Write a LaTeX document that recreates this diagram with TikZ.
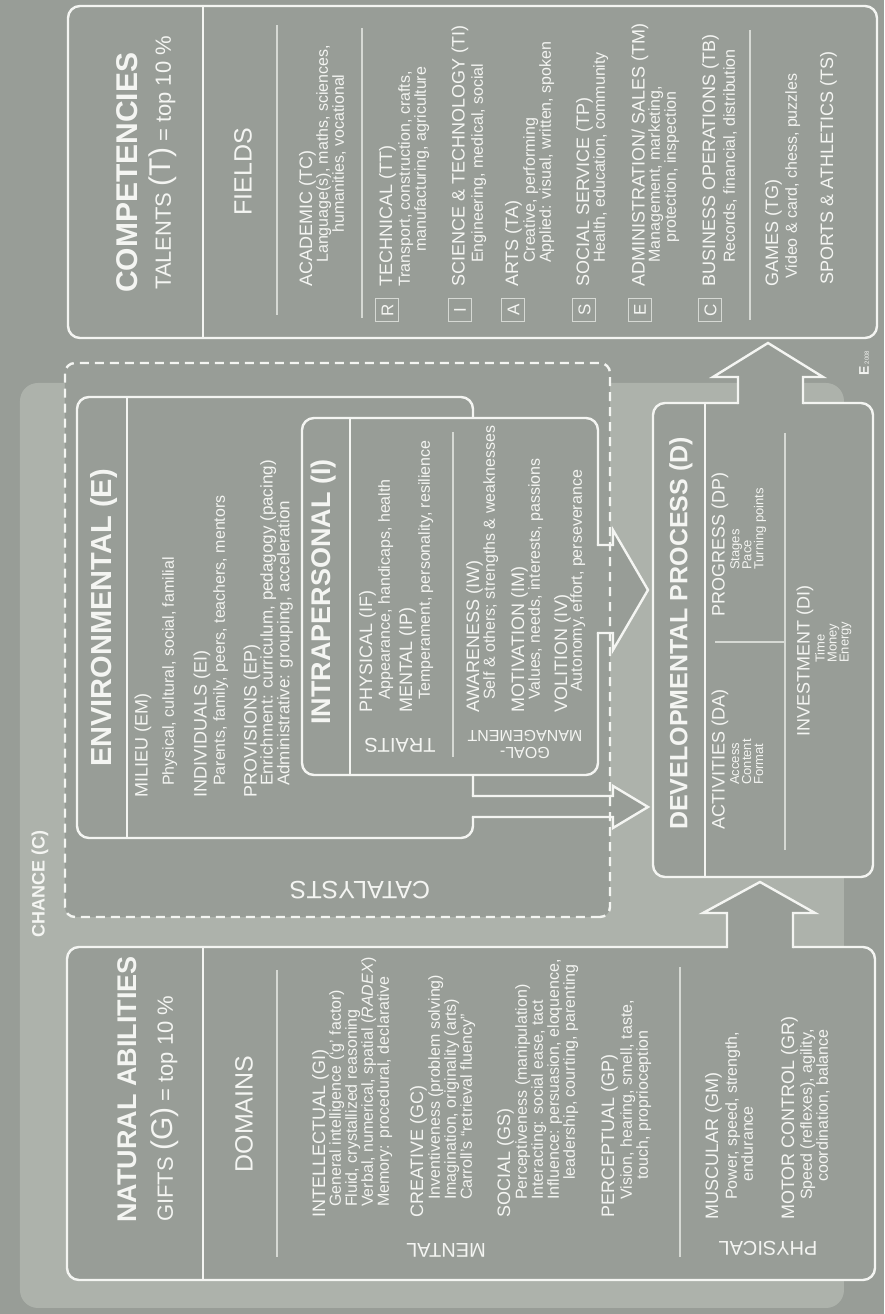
\documentclass[tikz,border=0pt]{standalone}
\usepackage{fontspec}
\setmainfont{Liberation Sans}
\definecolor{bgdark}{RGB}{152,157,151}
\definecolor{chancelt}{RGB}{173,178,171}
\definecolor{inkwhite}{RGB}{244,245,242}
\definecolor{rulegray}{RGB}{214,217,212}
\tikzset{
  box/.style={draw=inkwhite,line width=2.4pt,fill=bgdark,rounded corners=12pt},
  arrowline/.style={draw=inkwhite,line width=2.4pt,line join=miter},
  divider/.style={draw=inkwhite,line width=1.3pt},
  thinrule/.style={draw=rulegray,line width=1.1pt},
  txt/.style={text=inkwhite,inner sep=0pt},
  big/.style={txt,font=\bfseries\fontsize{#1}{#1}\selectfont},
  ttl/.style={txt,anchor=west,font=\fontsize{18}{18}\selectfont},
  sub/.style={txt,anchor=north west,align=left,font=\fontsize{16}{16}\selectfont},
  subsmall/.style={txt,anchor=north west,align=left,font=\fontsize{13}{12}\selectfont},
  side/.style={txt,rotate=90,font=\fontsize{20}{20}\selectfont},
  lettbox/.style={draw=rulegray,line width=1pt,minimum size=23pt,inner sep=0pt,text=inkwhite,font=\fontsize{17}{17}\selectfont}
}
\begin{document}
\begin{tikzpicture}[x=1pt,y=1pt]
\begin{scope}[rotate=90,transform shape]
\useasboundingbox (0,0) rectangle (1314,884);
\fill[bgdark] (0,0) rectangle (1314,884);
\fill[chancelt,rounded corners=18pt] (6,40) rectangle (931,864);
\fill[bgdark,rounded corners=10pt] (397,274) rectangle (951,819);

% boxes
\draw[box] (976,7) rectangle (1308,816);
\draw[box] (34,9) rectangle (367,817);
\draw[box] (437,11) rectangle (911,231);
\draw[box] (476,411) rectangle (917,807);
\draw[box] (539,286) rectangle (896,582);

% arrows
\fill[bgdark] (363,91) -- (401,91) -- (401,69) -- (432,124) -- (401,181) -- (401,157) -- (363,157) -- cycle;
\draw[arrowline] (365.8,91) -- (401,91) -- (401,69) -- (432,124) -- (401,181) -- (401,157) -- (365.8,157);
\fill[bgdark] (909,81) -- (937,81) -- (937,61) -- (971,116) -- (937,171) -- (937,146) -- (909,146) -- cycle;
\draw[arrowline] (909.8,81) -- (937,81) -- (937,61) -- (971,116) -- (937,171) -- (937,146) -- (909.8,146);
\fill[bgdark] (497,414) -- (497,271) -- (486,271) -- (507,236) -- (528,271) -- (518,271) -- (518,414) -- cycle;
\draw[arrowline] (497,412.2) -- (497,271) -- (486,271) -- (507,236) -- (528,271) -- (518,271) -- (518,412.2);
\fill[bgdark] (681,289) -- (681,271) -- (664,271) -- (724,236) -- (784,271) -- (769,271) -- (769,289) -- cycle;
\draw[arrowline] (681,287.2) -- (681,271) -- (664,271) -- (724,236) -- (784,271) -- (769,271) -- (769,287.2);

\draw[inkwhite,line width=2.4pt,dash pattern=on 9pt off 6pt,rounded corners=10pt] (397,274) rectangle (951,819);

% rules
\draw[divider] (976,681) -- (1308,681);
\draw[divider] (34,681) -- (367,681);
\draw[divider] (437,179) -- (911,179);
\draw[divider] (476,757) -- (917,757);
\draw[divider] (539,534) -- (896,534);
\draw[thinrule] (999,607) -- (1289,607);
\draw[thinrule] (996,522) -- (1286,522);
\draw[thinrule] (994,134) -- (1284,134);
\draw[thinrule] (57,607) -- (344,607);
\draw[thinrule] (57,204) -- (347,204);
\draw[thinrule] (557,431) -- (882,431);
\draw[thinrule] (672,99) -- (672,169);
\draw[thinrule] (464,99) -- (881,99);

% headings
\node[big=18] (chance) at (430,844) {CHANCE (C)};
\node[txt,rotate=90,font=\fontsize{25}{25}\selectfont] (catalysts) at (424,524) {CATALYSTS};
\node[big=27,anchor=west] (gifthead) at (91,757) {NATURAL ABILITIES};
\node[txt,anchor=west,font=\fontsize{22}{22}\selectfont] (giftsub) at (92,719) {GIFTS {\fontsize{30}{30}\selectfont(G)} = top 10 \%};
\node[txt,font=\fontsize{25}{25}\selectfont] (domains) at (200,640) {DOMAINS};
\node[big=30,anchor=west] (talhead) at (1021,757) {COMPETENCIES};
\node[txt,anchor=west,font=\fontsize{22}{22}\selectfont] (talsub) at (1024,721) {TALENTS {\fontsize{30}{30}\selectfont(T)} = top 10 \%};
\node[txt,font=\fontsize{25}{25}\selectfont] (fields) at (1142,641) {FIELDS};
\node[big=29] (envhead) at (696,780) {ENVIRONMENTAL (E)};
\node[big=27] (intrahead) at (722,560) {INTRAPERSONAL (I)};
\node[big=25,anchor=west] (devhead) at (484,203) {DEVELOPMENTAL PROCESS (D)};

\node[side] (mental) at (64,438) {MENTAL};
\node[side] (physical) at (66,116) {PHYSICAL};
\node[side] (traits) at (569,484) {TRAITS};
\node[side,align=center,font=\fontsize{16}{17}\selectfont] (goalmgmt) at (569,359) {GOAL-\\MANAGEMENT};

% gifts
\node[ttl] (gi) at (96,563.5) {INTELLECTUAL (GI)};
\node[sub] (gisub) at (107,555) {General intelligence (`g' factor)\\Fluid, crystallized reasoning\\Verbal, numerical, spatial (\textit{RADEX})\\Memory: procedural, declarative};
\node[ttl] (gc) at (96,465.5) {CREATIVE (GC)};
\node[sub] (gcsub) at (114,456) {Inventiveness (problem solving)\\Imagination, originality (arts)\\Carroll's ``retrieval fluency''};
\node[ttl] (gs) at (96,378.5) {SOCIAL (GS)};
\node[sub] (gssub) at (114,369) {Perceptiveness (manipulation)\\Interacting: social ease, tact\\Influence: persuasion, eloquence,\\\hspace*{20pt}leadership, courting, parenting};
\node[ttl] (gp) at (96,274.5) {PERCEPTUAL (GP)};
\node[sub] (gpsub) at (114,264) {Vision, hearing, smell, taste,\\\hspace*{20pt}touch, proprioception};
\node[ttl] (gm) at (94,170.5) {MUSCULAR (GM)};
\node[sub] (gmsub) at (114,159) {Power, speed, strength,\\\hspace*{18pt}endurance};
\node[ttl] (gr) at (94,94.5) {MOTOR CONTROL (GR)};
\node[sub] (grsub) at (114,84) {Speed (reflexes), agility,\\\hspace*{18pt}coordination, balance};

% environment
\node[ttl] (em) at (516,741) {MILIEU (EM)};
\node[sub] (emsub) at (528,722) {Physical, cultural, social, familial};
\node[ttl] (ei) at (516,682) {INDIVIDUALS (EI)};
\node[sub] (eisub) at (528,671) {Parents, family, peers, teachers, mentors};
\node[ttl] (ep) at (516,632) {PROVISIONS (EP)};
\node[sub,font=\fontsize{17}{13}\selectfont] (epsub) at (528,624) {Enrichment: curriculum, pedagogy (pacing)\\Administrative: grouping, acceleration};

% intrapersonal
\node[ttl] (if) at (601,516.5) {PHYSICAL (IF)};
\node[sub] (ifsub) at (614,506) {Appearance, handicaps, health};
\node[ttl] (ip) at (601,476.5) {MENTAL (IP)};
\node[sub] (ipsub) at (614,466) {Temperament, personality, resilience};
\node[ttl] (iw) at (601,409.5) {AWARENESS (IW)};
\node[sub] (iwsub) at (614,401) {Self \& others; strengths \& weaknesses};
\node[ttl] (im) at (601,364.5) {MOTIVATION (IM)};
\node[sub] (imsub) at (614,356) {Values, needs, interests, passions};
\node[ttl] (iv) at (601,321.5) {VOLITION (IV)};
\node[sub] (ivsub) at (622,314) {Autonomy, effort, perseverance};

% process
\node[ttl] (da) at (484,164) {ACTIVITIES (DA)};
\node[subsmall] (dasub) at (529,154) {Access\\Content\\Format};
\node[ttl] (dp) at (697,164) {PROGRESS (DP)};
\node[subsmall] (dpsub) at (744,154) {Stages\\Pace\\Turning points};
\node[ttl] (di) at (577,79) {INVESTMENT (DI)};
\node[subsmall] (disub) at (651,69) {Time\\Money\\Energy};

% talents
\foreach \lt/\yy in {R/496.5,I/424,A/370.5,S/299.5,E/244,C/173.5}
  \node[lettbox] (box\lt) at (1004,\yy) {\lt};
\node[ttl] (tc) at (1027,576.5) {ACADEMIC (TC)};
\node[sub] (tcsub) at (1051,568) {Language(s), maths, sciences,\\\hspace*{30pt}humanities, vocational};
\node[ttl] (tt) at (1027,496.5) {TECHNICAL (TT)};
\node[sub] (ttsub) at (1027,486) {Transport, construction, crafts,\\\hspace*{35pt}manufacturing, agriculture};
\node[ttl] (ti) at (1027,424) {SCIENCE \& TECHNOLOGY (TI)};
\node[sub] (tisub) at (1051,413) {Engineering, medical, social};
\node[ttl] (ta) at (1027,370.5) {ARTS (TA)};
\node[sub] (tasub) at (1051,361) {Creative, performing\\Applied: visual, written, spoken};
\node[ttl] (tp) at (1027,299.5) {SOCIAL SERVICE (TP)};
\node[sub] (tpsub) at (1051,291) {Health, education, community};
\node[ttl] (tm) at (1027,244) {ADMINISTRATION/ SALES (TM)};
\node[sub] (tmsub) at (1051,236) {Management, marketing,\\\hspace*{20pt}protection, inspection};
\node[ttl] (tb) at (1027,173.5) {BUSINESS OPERATIONS (TB)};
\node[sub] (tbsub) at (1051,161) {Records, financial, distribution};
\node[ttl] (tg) at (1027,110.5) {GAMES (TG)};
\node[sub] (tgsub) at (1035,99) {Video \& card, chess, puzzles};
\node[ttl] (ts) at (1029,55.5) {SPORTS \& ATHLETICS (TS)};

\node[txt] (logo) at (951,20) {{\bfseries\fontsize{14}{14}\selectfont E}\,{\fontsize{6}{6}\selectfont 2008}};
\end{scope}
\end{tikzpicture}
\end{document}
